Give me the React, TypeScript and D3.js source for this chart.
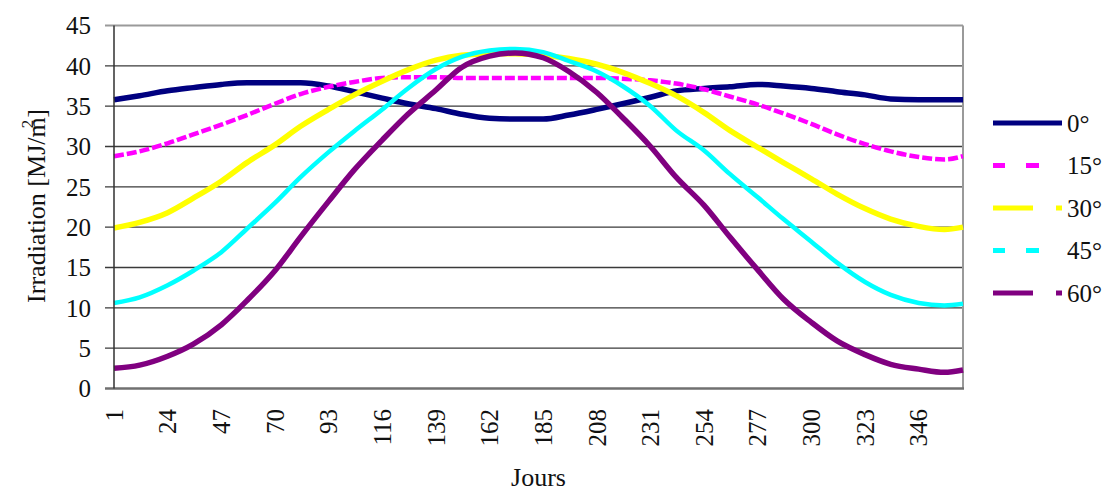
import React from "react";
import * as d3 from "d3";

const days = [1, 12, 24, 35, 47, 58, 70, 81, 93, 104, 116, 127, 139, 150, 162, 173, 185, 196, 208, 219, 231, 242, 254, 265, 277, 288, 300, 311, 323, 334, 346, 357, 365];

const s0 = [35.8, 36.3, 36.9, 37.3, 37.7, 37.9, 37.9, 37.9, 37.5, 36.8, 36.0, 35.3, 34.7, 34.0, 33.5, 33.4, 33.4, 33.9, 34.6, 35.3, 36.1, 36.9, 37.2, 37.4, 37.7, 37.5, 37.2, 36.8, 36.4, 35.9, 35.8, 35.8, 35.8];
const s15 = [28.8, 29.4, 30.4, 31.5, 32.7, 33.9, 35.3, 36.5, 37.4, 38.0, 38.5, 38.6, 38.6, 38.5, 38.5, 38.5, 38.5, 38.5, 38.5, 38.4, 38.2, 37.8, 37.1, 36.2, 35.2, 34.1, 32.8, 31.5, 30.3, 29.4, 28.7, 28.4, 28.8];
const s30 = [19.9, 20.6, 21.8, 23.6, 25.7, 28.0, 30.2, 32.5, 34.6, 36.4, 38.1, 39.5, 40.7, 41.3, 41.5, 41.5, 41.3, 40.9, 40.2, 39.2, 37.8, 36.3, 34.2, 32.0, 29.9, 28.0, 26.0, 24.1, 22.3, 21.0, 20.1, 19.7, 20.0];
const s45 = [10.6, 11.3, 12.8, 14.6, 16.9, 19.8, 23.0, 26.2, 29.3, 31.9, 34.6, 37.2, 39.6, 41.1, 41.9, 42.1, 41.7, 40.6, 39.3, 37.5, 35.0, 32.0, 29.5, 26.6, 23.7, 21.0, 18.2, 15.6, 13.2, 11.6, 10.6, 10.3, 10.5];
const s60 = [2.5, 2.9, 4.0, 5.5, 7.9, 10.9, 14.6, 18.8, 23.2, 27.1, 30.8, 34.0, 37.0, 39.8, 41.2, 41.6, 41.0, 39.3, 36.7, 33.6, 30.0, 26.2, 22.7, 18.8, 14.7, 11.1, 8.2, 5.9, 4.2, 3.0, 2.4, 2.0, 2.3];

const seriesNames = ["0°", "15°", "30°", "45°", "60°"];
const xTickLabels = [1, 24, 47, 70, 93, 116, 139, 162, 185, 208, 231, 254, 277, 300, 323, 346];
const yTickLabels = [0, 5, 10, 15, 20, 25, 30, 35, 40, 45];

const colors = ["#000080", "#ff00ff", "#ffff00", "#00ffff", "#800080"];
const plotDash = [null, "10,3", null, null, null];
const plotWidth = [5.5, 4.5, 5.5, 4.5, 5.5];
const legendDash = [null, "12,21,13,100", "40,23,6,100", "12,21,13,100", "40,23,6,100"];

const FONT = "'Liberation Serif', 'Times New Roman', Times, serif";

export default function App() {
  const W = 1111, H = 494;
  const left = 114, right = 963, top = 25.5, bottom = 388.5;
  const x = d3.scaleLinear().domain([1, 365]).range([left, right]);
  const y = d3.scaleLinear().domain([0, 45]).range([bottom, top]);
  const allSeries = [s0, s15, s30, s45, s60];
  const line = d3
    .line<number>()
    .x((_, i) => x(days[i]))
    .y((v) => y(v))
    .curve(d3.curveMonotoneX);

  return (
    <svg
      width={W}
      height={H}
      style={{ position: "absolute", left: 0, top: 0, background: "#fff", fontFamily: FONT }}
    >
      <rect x={0} y={0} width={W} height={H} fill="#fff" />
      {yTickLabels.slice(1, -1).map((t) => (
        <line key={t} x1={105} x2={right} y1={y(t)} y2={y(t)} stroke="#3a3a3a" strokeWidth={1.4} />
      ))}
      <line x1={105} x2={right} y1={y(45)} y2={y(45)} stroke="#9a9a9a" strokeWidth={2} />
      <line x1={right} x2={right} y1={y(45)} y2={y(0)} stroke="#9a9a9a" strokeWidth={2} />
      {allSeries.map((s, i) => (
        <path
          key={i}
          d={line(s) || ""}
          fill="none"
          stroke={colors[i]}
          strokeWidth={plotWidth[i]}
          strokeDasharray={plotDash[i] || undefined}
          strokeLinejoin="round"
        />
      ))}
      <line x1={105} x2={right + 1} y1={y(0)} y2={y(0)} stroke="#707070" strokeWidth={2.5} />
      <line x1={left} x2={left} y1={y(45)} y2={y(0)} stroke="#303030" strokeWidth={1.5} />
      {yTickLabels.map((t) => (
        <text key={t} x={91} y={y(t)} dy="0.35em" textAnchor="end" fontSize={25} fill="#111" fontFamily={FONT}>
          {t}
        </text>
      ))}
      {xTickLabels.map((t) => (
        <text
          key={t}
          transform={`translate(${x(t)},409) rotate(-90)`}
          textAnchor="end"
          dy="0.35em"
          fontSize={25}
          fill="#111"
          fontFamily={FONT}
        >
          {t}
        </text>
      ))}
      <text x={(left + right) / 2} y={486} textAnchor="middle" fontSize={26} fill="#111" fontFamily={FONT}>
        Jours
      </text>
      <text
        transform="translate(45,206) rotate(-90)"
        textAnchor="middle"
        fontSize={26}
        fill="#111"
        fontFamily={FONT}
      >
        Irradiation [MJ/m
        <tspan dx={-11} dy={-12} fontSize={17}>2</tspan>
        <tspan dx={2} dy={12}>]</tspan>
      </text>
      {seriesNames.map((n, i) => {
        const ly = 123 + i * 42.5;
        return (
          <g key={n}>
            <line
              x1={993}
              x2={1062}
              y1={ly}
              y2={ly}
              stroke={colors[i]}
              strokeWidth={5}
              strokeDasharray={legendDash[i] || undefined}
            />
            <text x={1067} y={ly} dy="0.35em" fontSize={25} fill="#111" fontFamily={FONT}>
              {n}
            </text>
          </g>
        );
      })}
    </svg>
  );
}
